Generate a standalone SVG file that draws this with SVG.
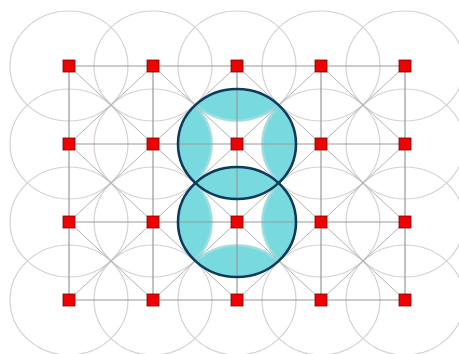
<svg xmlns="http://www.w3.org/2000/svg" width="459" height="354" viewBox="0 0 459 354">
<style>
.gc{fill:none;stroke:#d2d2d2;stroke-width:1.2}
.ln{fill:none;stroke:#9a9a9a;stroke-width:1.2}
.dg{fill:none;stroke:#b4b4b4;stroke-width:1}
.nd{fill:#f00000;stroke:#7a0000;stroke-width:0.8}
.bc{fill:none;stroke:#0c3a5c;stroke-width:2.6}
.cy{fill:#78dade}
</style>
<defs>
<filter id="soft" x="-10%" y="-10%" width="120%" height="120%"><feGaussianBlur stdDeviation="1.3"/></filter>
<clipPath id="nbTop">
<ellipse cx="153" cy="144" rx="59" ry="55"/><ellipse cx="321" cy="144" rx="59" ry="55"/><ellipse cx="237" cy="66" rx="59" ry="55"/><ellipse cx="237" cy="222" rx="59" ry="55"/>
</clipPath>
<clipPath id="nbBot">
<ellipse cx="153" cy="222" rx="59" ry="55"/><ellipse cx="321" cy="222" rx="59" ry="55"/><ellipse cx="237" cy="144" rx="59" ry="55"/><ellipse cx="237" cy="300" rx="59" ry="55"/>
</clipPath>
<clipPath id="inTop"><ellipse cx="237" cy="144" rx="58" ry="54"/></clipPath>
<clipPath id="inBot"><ellipse cx="237" cy="222" rx="58" ry="54"/></clipPath>
</defs>
<rect width="459" height="354" fill="#ffffff"/>
<g id="coverage-circles">
<ellipse class="gc" cx="69" cy="66" rx="59" ry="55"/><ellipse class="gc" cx="153" cy="66" rx="59" ry="55"/><ellipse class="gc" cx="237" cy="66" rx="59" ry="55"/><ellipse class="gc" cx="321" cy="66" rx="59" ry="55"/><ellipse class="gc" cx="405" cy="66" rx="59" ry="55"/>
<ellipse class="gc" cx="69" cy="144" rx="59" ry="55"/><ellipse class="gc" cx="153" cy="144" rx="59" ry="55"/><ellipse class="gc" cx="321" cy="144" rx="59" ry="55"/><ellipse class="gc" cx="405" cy="144" rx="59" ry="55"/>
<ellipse class="gc" cx="69" cy="222" rx="59" ry="55"/><ellipse class="gc" cx="153" cy="222" rx="59" ry="55"/><ellipse class="gc" cx="321" cy="222" rx="59" ry="55"/><ellipse class="gc" cx="405" cy="222" rx="59" ry="55"/>
<ellipse class="gc" cx="69" cy="300" rx="59" ry="55"/><ellipse class="gc" cx="153" cy="300" rx="59" ry="55"/><ellipse class="gc" cx="237" cy="300" rx="59" ry="55"/><ellipse class="gc" cx="321" cy="300" rx="59" ry="55"/><ellipse class="gc" cx="405" cy="300" rx="59" ry="55"/>
</g>
<g id="highlight-fill">
<g clip-path="url(#inTop)"><g filter="url(#soft)"><g clip-path="url(#nbTop)"><ellipse class="cy" cx="237" cy="144" rx="62" ry="58"/></g></g></g>
<g clip-path="url(#inBot)"><g filter="url(#soft)"><g clip-path="url(#nbBot)"><ellipse class="cy" cx="237" cy="222" rx="62" ry="58"/></g></g></g>
</g>
<g id="connectors">
<path class="dg" d="M69,66L321,300M153,66L405,300M237,66L405,222M321,66L405,144M69,144L237,300M69,222L153,300M69,300L321,66M153,300L405,66M237,300L405,144M321,300L405,222M69,222L237,66M69,144L153,66"/>
<path class="ln" d="M69,66H405M69,144H405M69,222H405M69,300H405M69,66V300M153,66V300M237,66V300M321,66V300M405,66V300"/>
</g>
<g id="highlight-top"><ellipse class="bc" cx="237" cy="144" rx="59" ry="55"/></g>
<g id="highlight-bottom"><ellipse class="bc" cx="237" cy="222" rx="59" ry="55"/></g>
<g id="n-0-0"><rect class="nd" x="63" y="60" width="12" height="12"/></g>
<g id="n-1-0"><rect class="nd" x="147" y="60" width="12" height="12"/></g>
<g id="n-2-0"><rect class="nd" x="231" y="60" width="12" height="12"/></g>
<g id="n-3-0"><rect class="nd" x="315" y="60" width="12" height="12"/></g>
<g id="n-4-0"><rect class="nd" x="399" y="60" width="12" height="12"/></g>
<g id="n-0-1"><rect class="nd" x="63" y="138" width="12" height="12"/></g>
<g id="n-1-1"><rect class="nd" x="147" y="138" width="12" height="12"/></g>
<g id="n-2-1"><rect class="nd" x="231" y="138" width="12" height="12"/></g>
<g id="n-3-1"><rect class="nd" x="315" y="138" width="12" height="12"/></g>
<g id="n-4-1"><rect class="nd" x="399" y="138" width="12" height="12"/></g>
<g id="n-0-2"><rect class="nd" x="63" y="216" width="12" height="12"/></g>
<g id="n-1-2"><rect class="nd" x="147" y="216" width="12" height="12"/></g>
<g id="n-2-2"><rect class="nd" x="231" y="216" width="12" height="12"/></g>
<g id="n-3-2"><rect class="nd" x="315" y="216" width="12" height="12"/></g>
<g id="n-4-2"><rect class="nd" x="399" y="216" width="12" height="12"/></g>
<g id="n-0-3"><rect class="nd" x="63" y="294" width="12" height="12"/></g>
<g id="n-1-3"><rect class="nd" x="147" y="294" width="12" height="12"/></g>
<g id="n-2-3"><rect class="nd" x="231" y="294" width="12" height="12"/></g>
<g id="n-3-3"><rect class="nd" x="315" y="294" width="12" height="12"/></g>
<g id="n-4-3"><rect class="nd" x="399" y="294" width="12" height="12"/></g>
</svg>
